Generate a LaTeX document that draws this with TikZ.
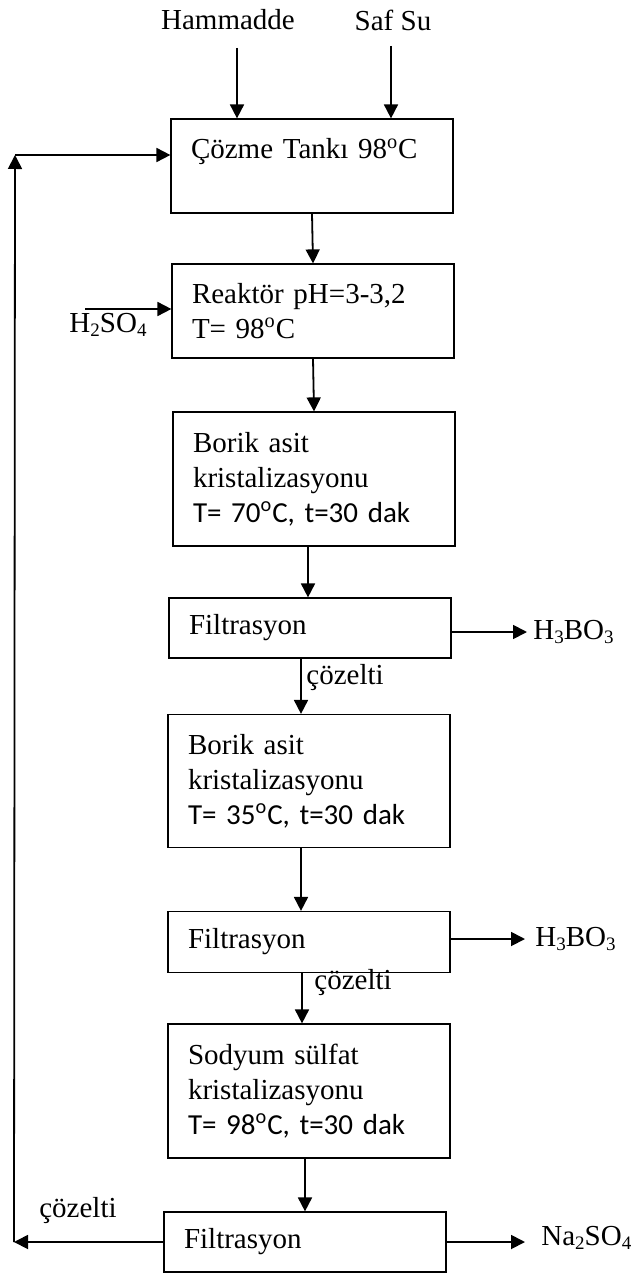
\documentclass[tikz,border=0pt]{standalone}
\usepackage{fontspec}
\setmainfont{Liberation Serif}
\newfontfamily\calibrifont{Carlito}
\usetikzlibrary{arrows.meta}

\newcommand{\degC}{\textsuperscript{o}C}
\newcommand{\sub}[1]{\raisebox{-0.25ex}{\fontsize{9.5}{10}\selectfont #1}}

\tikzset{
  stepbox/.style={rectangle,
                  draw,
                  line width=0.6pt,
                  text width=121pt,
                  inner xsep=10pt,
                  inner ysep=0pt,
                  align=left,
                  font=\fontsize{14.5}{17.5}\selectfont},
  flow/.style={-{Triangle[length=7pt,width=7pt]}, line width=0.9pt},
  lbl/.style={inner sep=0pt, font=\fontsize{14.5}{17.5}\selectfont}
}

\begin{document}
\begin{tikzpicture}[x=0.5pt, y=-0.5pt]
\useasboundingbox (0,0) rectangle (634,1273);

% process steps
\node[stepbox, minimum height=47pt] (tank) at (312,166) {Çözme Tankı 98\degC\\ ~};
\node[stepbox, minimum height=47pt] (reactor) at (313,311) {Reaktör pH=3-3,2\\ T= 98\degC};
\node[stepbox, minimum height=67pt] (cryst1) at (314,479) {Borik asit\\ kristalizasyonu\\ {\calibrifont T= 70\degC, t=30 dak}};
\node[stepbox, minimum height=30pt] (filt1) at (310,628) {Filtrasyon};
\node[stepbox, minimum height=66.5pt] (cryst2) at (309,781) {Borik asit\\ kristalizasyonu\\ {\calibrifont T= 35\degC, t=30 dak}};
\node[stepbox, minimum height=30.5pt] (filt2) at (309,942) {Filtrasyon};
\node[stepbox, minimum height=67pt] (cryst3) at (309,1091) {Sodyum sülfat\\ kristalizasyonu\\ {\calibrifont T= 98\degC, t=30 dak}};
\node[stepbox, minimum height=30pt] (filt3) at (305,1242) {Filtrasyon};

% streams
\node[lbl] (raw) at (228,20) {Hammadde};
\node[lbl] (water) at (393,20) {Saf Su};
\node[lbl] (acid) at (108,325) {H\sub{2}SO\sub{4}};
\node[lbl, anchor=west] (boric1) at (533,632) {H\sub{3}BO\sub{3}};
\node[lbl, anchor=west] (boric2) at (535,939) {H\sub{3}BO\sub{3}};
\node[lbl, anchor=west] (sulfate) at (541,1238) {Na\sub{2}SO\sub{4}};
\node[lbl, anchor=west] (sol1) at (306,678) {çözelti};
\node[lbl, anchor=west] (sol2) at (314,983) {çözelti};
\node[lbl] (sol3) at (78,1211) {çözelti};

\coordinate (rawin) at (237,48);
\coordinate (waterin) at (391,46);
\coordinate (acidin) at (85,309);
\coordinate (back1) at (14,1242);
\coordinate (back2) at (15,155);

% connections
\draw[flow] (rawin) -- (rawin |- tank.north);
\draw[flow] (waterin) -- (waterin |- tank.north);
\draw[flow] (tank.south) -- (reactor.north);
\draw[flow] (acidin) -- (acidin -| reactor.west);
\draw[flow] (reactor.south) -- (cryst1.north);
\draw[flow] ([xshift=-3pt]cryst1.south) -- ([xshift=-3pt]cryst1.south |- filt1.north);
\draw[flow] ([xshift=-4.5pt]filt1.south) -- ([xshift=-4.5pt]filt1.south |- cryst2.north);
\draw[flow] ([xshift=-4pt]cryst2.south) -- ([xshift=-4pt]cryst2.south |- filt2.north);
\draw[flow] ([xshift=-3.5pt]filt2.south) -- ([xshift=-3.5pt]filt2.south |- cryst3.north);
\draw[flow] (cryst3.south -| filt3.north) -- (filt3.north);
\draw[flow] (filt1.east |- boric1.west) -- ([xshift=-3pt]boric1.west);
\draw[flow] (filt2.east |- boric2.west) -- ([xshift=-5pt]boric2.west);
\draw[flow] (filt3.east) -- ([xshift=-8pt]sulfate.west |- filt3.east);
\draw[flow] (filt3.west) -- (back1);
\draw[flow] (back1) -- (back2);
\draw[flow] (back2) -- (back2 -| tank.west);
\end{tikzpicture}
\end{document}
